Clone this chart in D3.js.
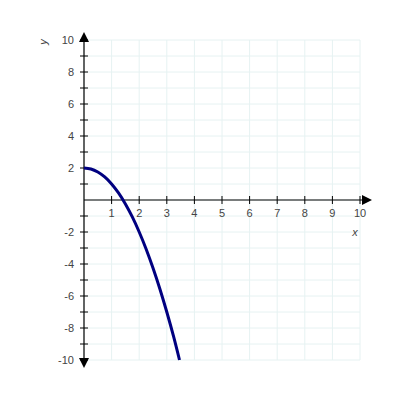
<!DOCTYPE html>
<html>
<head>
<meta charset="utf-8">
<script src="https://cdn.jsdelivr.net/npm/d3@7"></script>
<style>
  body { margin: 0; background: #fff; }
  text { font-family: Arial, "Liberation Sans", sans-serif; }
</style>
</head>
<body>
<div id="chart"></div>
<script>
// curve points
var xVals = [0, 0.25, 0.5, 0.75, 1, 1.25, 1.5, 1.75, 2, 2.25, 2.5, 2.75, 3, 3.25, 3.46];
var yVals = [2, 1.94, 1.75, 1.44, 1, 0.44, -0.25, -1.06, -2, -3.06, -4.25, -5.56, -7, -8.56, -10];

var xTicks = [1, 2, 3, 4, 5, 6, 7, 8, 9, 10];
var yTicks = [-10, -9, -8, -7, -6, -5, -4, -3, -2, -1, 1, 2, 3, 4, 5, 6, 7, 8, 9, 10];
var yLabels = [-10, -8, -6, -4, -2, 2, 4, 6, 8, 10];
var gridVals = [0, 1, 2, 3, 4, 5, 6, 7, 8, 9, 10];
var gridYVals = [-10, -9, -8, -7, -6, -5, -4, -3, -2, -1, 0, 1, 2, 3, 4, 5, 6, 7, 8, 9, 10];

var width = 400, height = 400;

var svg = d3.select("#chart")
  .append("svg")
    .attr("width", width)
    .attr("height", height);

var x = d3.scaleLinear().domain([0, 10]).range([84, 360]);
var y = d3.scaleLinear().domain([-10, 10]).range([360, 40]);

// grid
svg.append("g")
  .selectAll("line")
  .data(gridVals)
  .enter().append("line")
    .attr("x1", d => x(d)).attr("x2", d => x(d))
    .attr("y1", y(10)).attr("y2", y(-10))
    .attr("stroke", "#e6f2f2").attr("stroke-width", 1);

svg.append("g")
  .selectAll("line")
  .data(gridYVals)
  .enter().append("line")
    .attr("x1", x(0)).attr("x2", x(10))
    .attr("y1", d => y(d)).attr("y2", d => y(d))
    .attr("stroke", "#e6f2f2").attr("stroke-width", 1);

// x axis
svg.append("line")
  .attr("x1", x(0)).attr("x2", x(10) + 4)
  .attr("y1", y(0)).attr("y2", y(0))
  .attr("stroke", "#000").attr("stroke-width", 1.2);
svg.append("path")
  .attr("d", "M" + (x(10) + 12) + "," + y(0) + "l-10,-5l0,10z")
  .attr("fill", "#000");

svg.append("g")
  .selectAll("line")
  .data(xTicks)
  .enter().append("line")
    .attr("x1", d => x(d)).attr("x2", d => x(d))
    .attr("y1", y(0) - 4).attr("y2", y(0) + 4)
    .attr("stroke", "#000");

svg.append("g")
  .selectAll("text")
  .data(xTicks)
  .enter().append("text")
    .attr("x", d => x(d))
    .attr("y", y(0) + 17)
    .attr("text-anchor", "middle")
    .attr("font-size", 11)
    .attr("fill", "#444")
    .text(d => d);

// y axis
svg.append("line")
  .attr("x1", x(0)).attr("x2", x(0))
  .attr("y1", y(10) - 2).attr("y2", y(-10) + 2)
  .attr("stroke", "#000").attr("stroke-width", 1.2);
svg.append("path")
  .attr("d", "M" + x(0) + "," + (y(10) - 8) + "l-5,10l10,0z")
  .attr("fill", "#000");
svg.append("path")
  .attr("d", "M" + x(0) + "," + (y(-10) + 8) + "l-5,-10l10,0z")
  .attr("fill", "#000");

svg.append("g")
  .selectAll("line")
  .data(yTicks)
  .enter().append("line")
    .attr("x1", x(0) - 4).attr("x2", x(0) + 4)
    .attr("y1", d => y(d)).attr("y2", d => y(d))
    .attr("stroke", "#000");

svg.append("g")
  .selectAll("text")
  .data(yLabels)
  .enter().append("text")
    .attr("x", x(0) - 10)
    .attr("y", d => y(d) + 4)
    .attr("text-anchor", "end")
    .attr("font-size", 11)
    .attr("fill", "#444")
    .text(d => d);

// axis names
svg.append("text")
  .attr("transform", "translate(47,42) rotate(-90)")
  .attr("text-anchor", "middle")
  .attr("font-size", 11)
  .attr("font-style", "italic")
  .attr("fill", "#444")
  .text("y");

svg.append("text")
  .attr("x", 355).attr("y", 236)
  .attr("text-anchor", "middle")
  .attr("font-size", 11)
  .attr("font-style", "italic")
  .attr("fill", "#444")
  .text("x");

// curve
var line = d3.line()
  .x(d => x(d[0]))
  .y(d => y(d[1]))
  .curve(d3.curveMonotoneX);

svg.append("path")
  .datum(xVals.map((v, i) => [v, yVals[i]]))
  .attr("d", line)
  .attr("fill", "none")
  .attr("stroke", "#000080")
  .attr("stroke-width", 3);
</script>
</body>
</html>
